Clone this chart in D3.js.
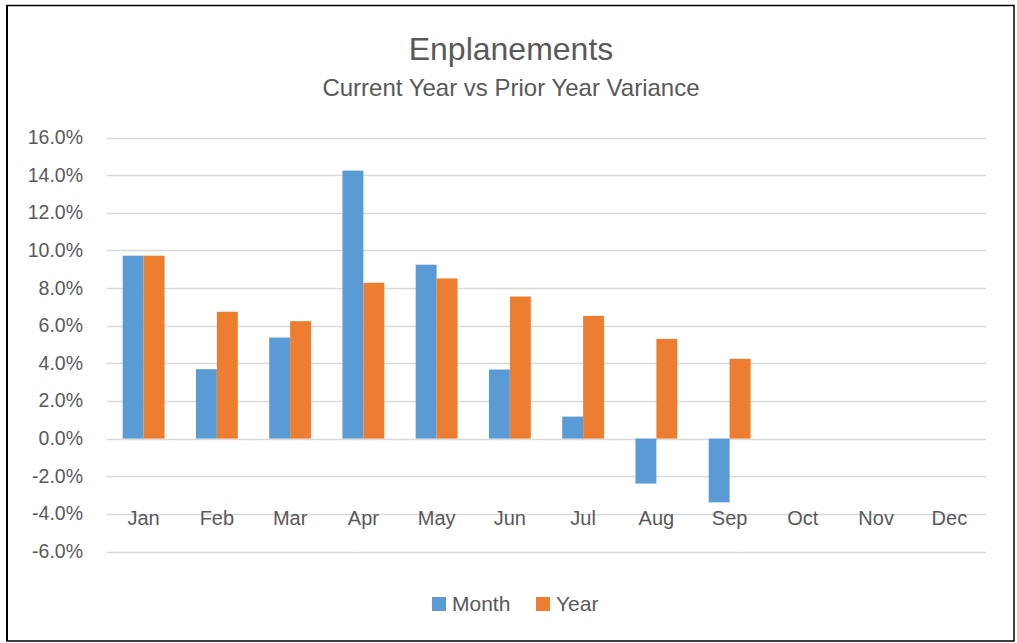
<!DOCTYPE html>
<html lang="en">
<head>
<meta charset="UTF-8">
<title>Enplanements</title>
<script src="https://d3js.org/d3.v7.min.js"></script>
<style>
  body { margin: 0; background: #fff; }
  svg { display: block; }
  text { font-family: "Liberation Sans", Arial, sans-serif; fill: #595959; }
</style>
</head>
<body>
<svg width="1017" height="643"></svg>
<script>
const months = ["Jan", "Feb", "Mar", "Apr", "May", "Jun", "Jul", "Aug", "Sep", "Oct", "Nov", "Dec"];
const seriesNames = ["Month", "Year"];
const monthValues = [0.0972, 0.0369, 0.0537, 0.1424, 0.0924, 0.0367, 0.0117, -0.0239, -0.0339, null, null, null];
const yearValues = [0.0972, 0.0674, 0.0624, 0.0828, 0.0851, 0.0755, 0.0652, 0.0530, 0.0424, null, null, null];
const yTicks = [-0.06, -0.04, -0.02, 0, 0.02, 0.04, 0.06, 0.08, 0.10, 0.12, 0.14, 0.16];
const colors = ["#5B9BD5", "#ED7D31"];

const svg = d3.select("svg");

// frame
svg.append("rect")
  .attr("x", 7).attr("y", 5.5)
  .attr("width", 1007).attr("height", 635.5)
  .attr("fill", "none").attr("stroke", "#000").attr("stroke-width", 1.5);
svg.append("line")
  .attr("x1", 7).attr("x2", 7).attr("y1", 5).attr("y2", 641)
  .attr("stroke", "#000").attr("stroke-width", 2);

const plot = { left: 107, right: 986, top: 137.5, bottom: 551.5 };

// gap width 150% => two bars take 2 of 3.5 units per category
const step = (plot.right - plot.left) / months.length;
const groupW = step * 2 / 3.5;
const xs = d3.scaleBand().domain(seriesNames).range([0, groupW]);

const y = d3.scaleLinear()
  .domain([-0.06, 0.16])
  .range([plot.bottom, plot.top]);

const pct = v => d3.format(".1%")(v).replace("−", "-");

// gridlines
svg.append("g")
  .selectAll("line")
  .data(yTicks)
  .join("line")
  .attr("x1", plot.left).attr("x2", plot.right)
  .attr("y1", d => Math.round(y(d)) + 0.5).attr("y2", d => Math.round(y(d)) + 0.5)
  .attr("stroke", "#D9D9D9").attr("stroke-width", 1.5);

// y labels
svg.append("g")
  .selectAll("text")
  .data(yTicks)
  .join("text")
  .attr("x", 83)
  .attr("y", d => y(d) + 6.5)
  .attr("text-anchor", "end")
  .style("font-size", "19.5px")
  .text(pct);

// bars
const rows = months.map((m, i) => ({ m, i, vals: [monthValues[i], yearValues[i]] }));
const groups = svg.append("g")
  .selectAll("g")
  .data(rows)
  .join("g")
  .attr("transform", d => `translate(${plot.left + step * d.i + (step - groupW) / 2},0)`);

groups.selectAll("rect")
  .data(d => d.vals.map((v, j) => ({ v, s: seriesNames[j], j })).filter(e => e.v !== null))
  .join("rect")
  .attr("x", e => xs(e.s))
  .attr("width", xs.bandwidth())
  .attr("y", e => y(Math.max(0, e.v)))
  .attr("height", e => Math.abs(y(e.v) - y(0)))
  .attr("fill", e => colors[e.j]);

// x labels
svg.append("g")
  .selectAll("text")
  .data(months)
  .join("text")
  .attr("x", (d, i) => plot.left + step * (i + 0.5))
  .attr("y", 525)
  .attr("text-anchor", "middle")
  .style("font-size", "20px")
  .text(d => d);

// titles
svg.append("text")
  .attr("x", 511).attr("y", 60)
  .attr("text-anchor", "middle")
  .style("font-size", "32px")
  .text("Enplanements");
svg.append("text")
  .attr("x", 511).attr("y", 96)
  .attr("text-anchor", "middle")
  .style("font-size", "24px")
  .text("Current Year vs Prior Year Variance");

// legend
const legendX = [432, 536];
const legend = svg.append("g");
seriesNames.forEach((s, i) => {
  legend.append("rect")
    .attr("x", legendX[i]).attr("y", 597)
    .attr("width", 14).attr("height", 14)
    .attr("fill", colors[i]);
  legend.append("text")
    .attr("x", legendX[i] + 20).attr("y", 611)
    .style("font-size", "21px")
    .text(s);
});
</script>
</body>
</html>
